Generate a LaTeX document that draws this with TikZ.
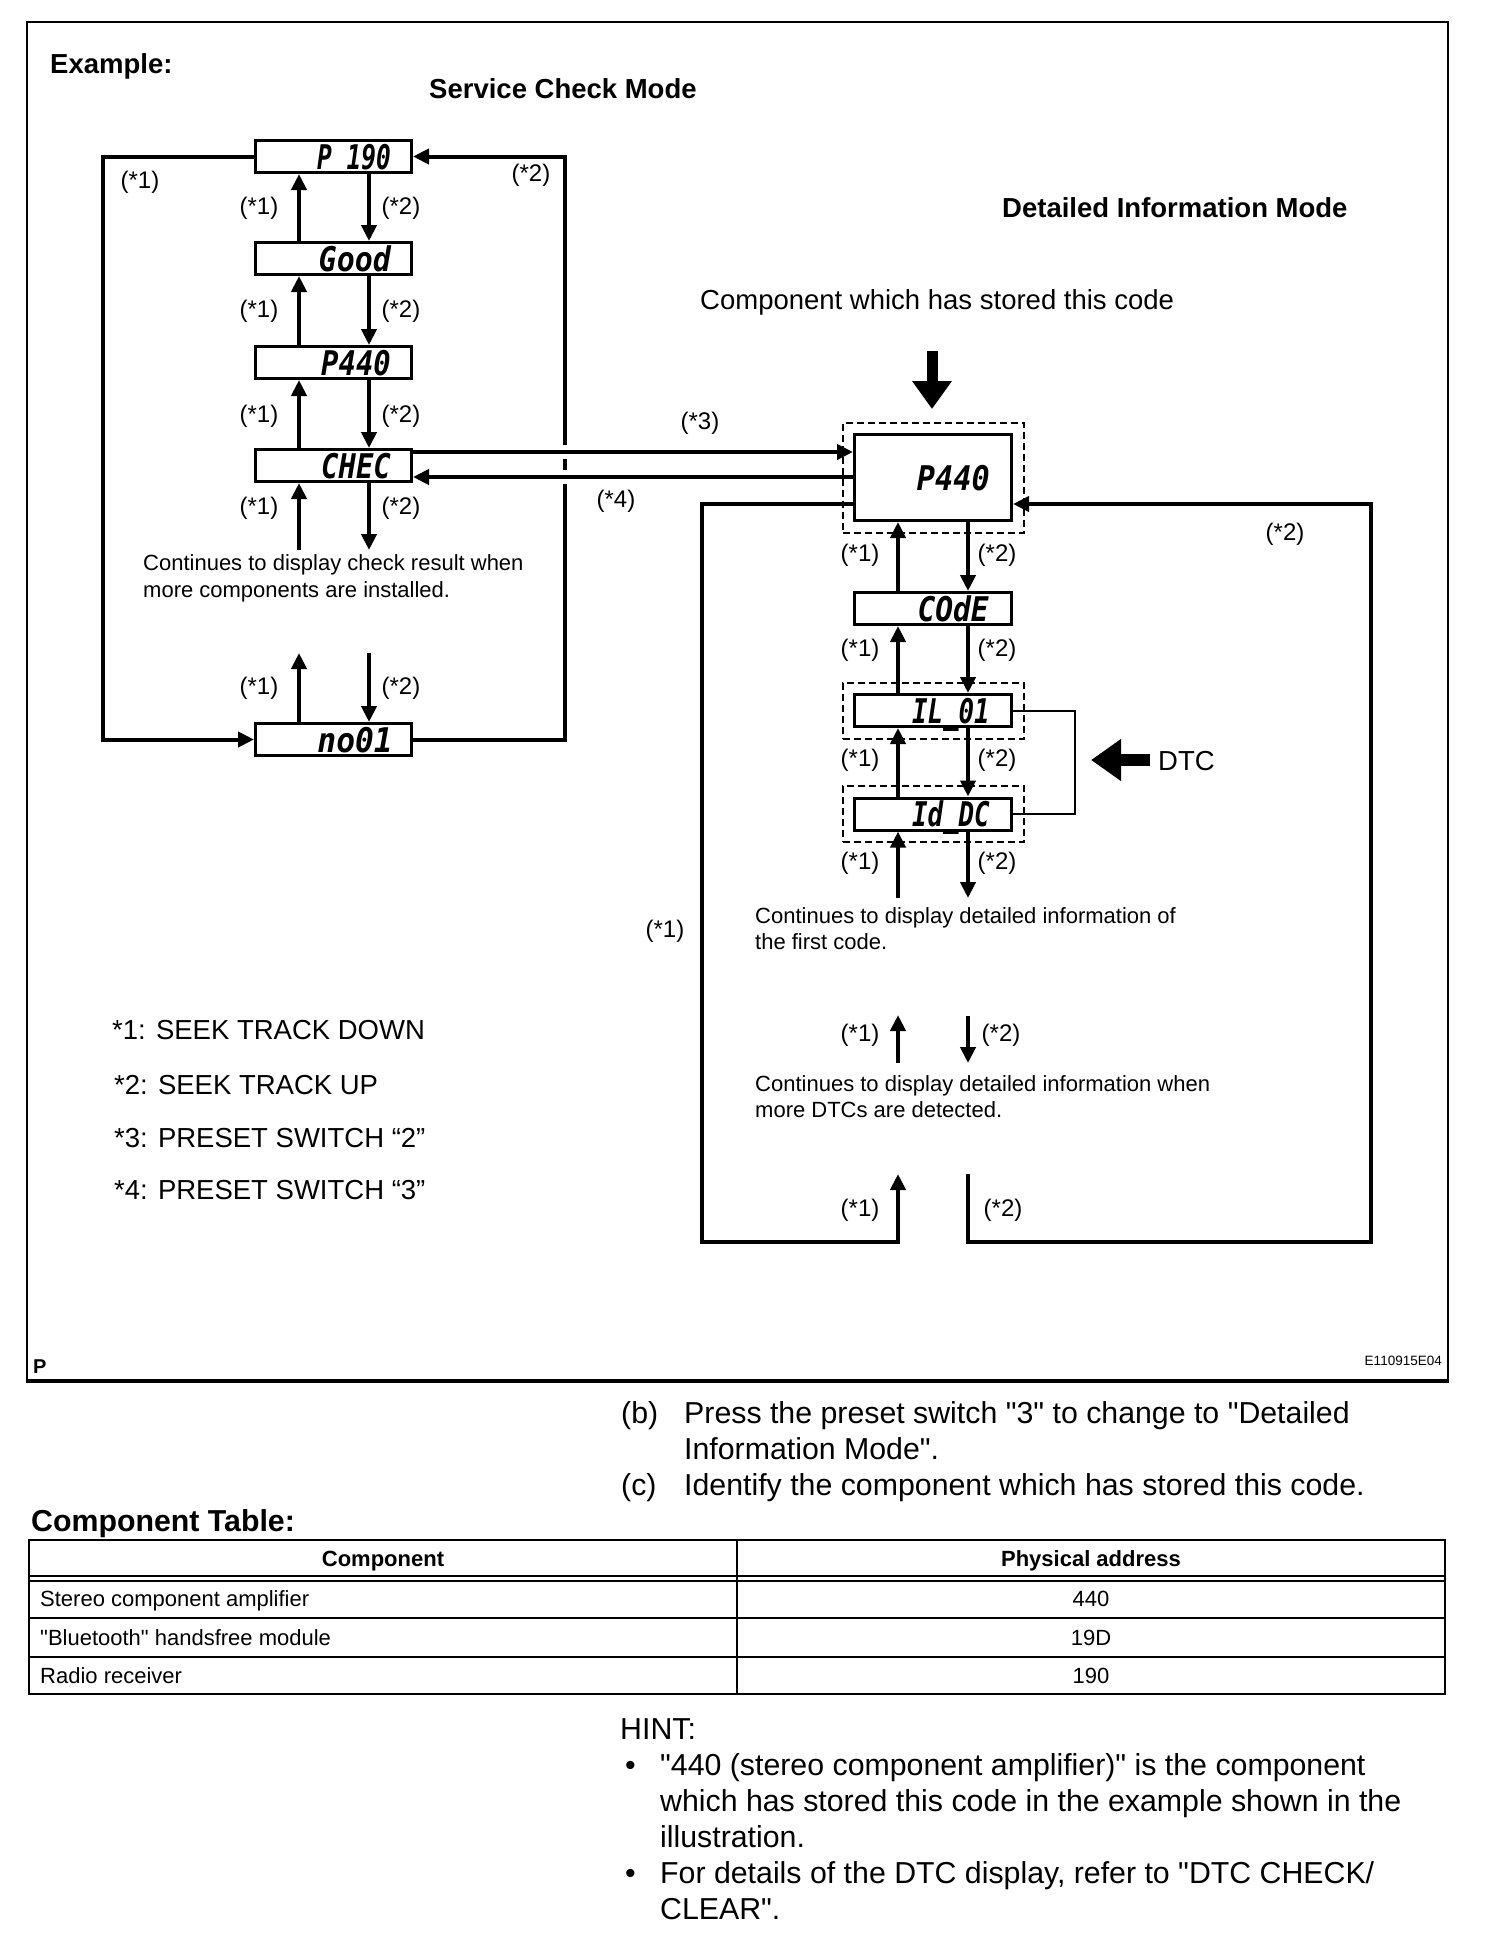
\documentclass[tikz,border=0pt]{standalone}
\usepackage{fontspec}
\setmainfont{Liberation Sans}[Ligatures=TeXOff]
\newfontfamily\segfont{DejaVu Sans Mono}
\usetikzlibrary{arrows.meta,calc}
\newcommand\fsLab{\fontsize{24}{28}\selectfont}
\newcommand\fsSmall{\fontsize{22}{27}\selectfont}
\newcommand\fsBig{\fontsize{27.5}{33}\selectfont}
\newcommand\fsLow{\fontsize{30.3}{36}\selectfont}
\tikzset{
  segbox/.style={draw, line width=3pt, minimum width=156pt, minimum height=32pt, inner sep=0pt},
  rbox/.style={segbox, minimum width=157pt},
  segtxt/.style={inner sep=0pt, anchor=base east, font=\fontsize{34}{34}\selectfont\segfont\bfseries\itshape},
  dbox/.style={draw, line width=1.4pt, dash pattern=on 7pt off 4pt, inner sep=0pt, minimum width=181pt},
  conn/.style={line width=4pt, line join=miter},
  arr/.style={conn, -{Triangle[length=16pt,width=15pt]}},
  lab/.style={font=\fsLab, inner sep=0pt},
  txt/.style={inner sep=0pt, anchor=base west},
  ctxt/.style={inner sep=0pt, anchor=base},
  tline/.style={line width=2pt},
}
\begin{document}
\begin{tikzpicture}[x=1pt,y=-1pt]
\useasboundingbox (0,0) rectangle (1504,1944);
\fill[white] (0,0) rectangle (1504,1944);
% frame
\draw[line width=2pt] (27,22) rectangle (1448,1381);
\draw[line width=3.5pt] (26,1381) -- (1449,1381);

% headings
\node[txt, font=\fsBig\bfseries] (hex) at (50,73) {Example:};
\node[txt, font=\fsBig\bfseries] (hsc) at (429,98) {Service Check Mode};
\node[txt, font=\fsBig\bfseries] (hdi) at (1002,217) {Detailed Information Mode};
\node[txt, font=\fsBig] (hcomp) at (700,309) {Component which has stored this code};

% left boxes
\node[segbox] (p190) at (333.5,156.5) {};
\node[segbox] (good) at (333.5,258.5) {};
\node[segbox] (p440) at (333.5,362.5) {};
\node[segbox] (chec) at (333.5,465.5) {};
\node[segbox] (no01) at (333.5,739.5) {};
\node[segtxt] (p190t) at ($(p190.east)+(-22,12.5)$) {\scalebox{0.72}[1]{P 190}};
\node[segtxt] (goodt) at ($(good.east)+(-22,12.5)$) {\scalebox{0.88}[1]{Good}};
\node[segtxt] (p440t) at ($(p440.east)+(-22,12.5)$) {\scalebox{0.85}[1]{P440}};
\node[segtxt] (chect) at ($(chec.east)+(-22,12.5)$) {\scalebox{0.85}[1]{CHEC}};
\node[segtxt] (no01t) at ($(no01.east)+(-20,12.5)$) {\scalebox{0.92}[1]{no01}};

% right boxes
\node[dbox, minimum height=110pt] (dbig) at (933.5,478) {};
\node[dbox, minimum height=56pt] (dil) at (933.5,711) {};
\node[dbox, minimum height=56pt] (did) at (933.5,814) {};
\node[rbox, minimum height=86pt] (big) at (933,477.5) {};
\node[rbox] (code) at (933,608.5) {};
\node[rbox] (il) at (933,710.5) {};
\node[rbox] (id) at (933,814) {};
\node[segtxt] (bigt) at ($(big.east)+(-23,13)$) {\scalebox{0.89}[1]{P440}};
\node[segtxt] (codet) at ($(code.east)+(-24,12.5)$) {\scalebox{0.87}[1]{COdE}};
\node[segtxt] (ilt) at ($(il.east)+(-23,12.5)$) {\scalebox{0.76}[1]{IL\_01}};
\node[segtxt] (idt) at ($(id.east)+(-23,12.5)$) {\scalebox{0.76}[1]{Id\_DC}};

% left connectors
\coordinate (ux) at (299,0);
\coordinate (dx) at (369,0);
\draw[arr] (good.north -| ux) -- (p190.south -| ux);
\draw[arr] (p190.south -| dx) -- (good.north -| dx);
\draw[arr] (p440.north -| ux) -- (good.south -| ux);
\draw[arr] (good.south -| dx) -- (p440.north -| dx);
\draw[arr] (chec.north -| ux) -- (p440.south -| ux);
\draw[arr] (p440.south -| dx) -- (chec.north -| dx);
\coordinate (ce1) at (299,550);
\coordinate (ce2) at (369,550);
\draw[arr] (ce1) -- (chec.south -| ce1);
\draw[arr] (chec.south -| ce2) -- (ce2);
\coordinate (ne1) at (299,653);
\coordinate (ne2) at (369,653);
\draw[arr] (no01.north -| ne1) -- (ne1);
\draw[arr] (ne2) -- (no01.north -| ne2);
\coordinate (lt) at (103,156.5);
\coordinate (lb) at (103,739.5);
\coordinate (rt) at (565,156.5);
\coordinate (rb) at (565,739.5);
\draw[arr] (p190.west) -- (lt) -- (lb) -- (no01.west);
\draw[arr] (no01.east) -- (rb) -- (rt) -- (p190.east);
\fill[white] (558,445) rectangle (572,459);
\fill[white] (558,470) rectangle (572,484);

% mode change lines
\coordinate (h1) at (0,452);
\coordinate (h2) at (0,477);
\coordinate (h3) at (0,504);
\draw[arr] (chec.east |- h1) -- (big.west |- h1);
\draw[arr] (big.west |- h2) -- (chec.east |- h2);

% right connectors
\coordinate (ru) at (898,0);
\coordinate (rd) at (968,0);
\draw[arr] (code.north -| ru) -- (big.south -| ru);
\draw[arr] (big.south -| rd) -- (code.north -| rd);
\draw[arr] (il.north -| ru) -- (code.south -| ru);
\draw[arr] (code.south -| rd) -- (il.north -| rd);
\draw[arr] (id.north -| ru) -- (il.south -| ru);
\draw[arr] (il.south -| rd) -- (id.north -| rd);
\coordinate (ie1) at (898,898);
\coordinate (ie2) at (968,898);
\draw[arr] (ie1) -- (id.south -| ie1);
\draw[arr] (id.south -| ie2) -- (ie2);
\coordinate (m1a) at (898,1063);
\coordinate (m1b) at (898,1015);
\coordinate (m2a) at (968,1016);
\coordinate (m2b) at (968,1063);
\draw[arr] (m1a) -- (m1b);
\draw[arr] (m2a) -- (m2b);
\coordinate (a1) at (702,504);
\coordinate (a2) at (702,1242);
\coordinate (a3) at (898,1242);
\coordinate (a4) at (898,1174);
\draw[arr] (big.west |- h3) -- (a1) -- (a2) -- (a3) -- (a4);
\coordinate (b1) at (968,1174);
\coordinate (b2) at (968,1242);
\coordinate (b3) at (1371,1242);
\coordinate (b4) at (1371,504);
\draw[arr] (b1) -- (b2) -- (b3) -- (b4) -- (big.east |- h3);

% DTC bracket and arrows
\coordinate (br1) at (1075,710.5);
\coordinate (br2) at (1075,814);
\draw[line width=2pt] (il.east) -- (br1) -- (br2) -- (id.east);
\coordinate (dtcA) at (1150,760);
\coordinate (dtcB) at (1091,760);
\draw[line width=12pt, -{Triangle[length=30pt,width=40pt]}] (dtcA) -- (dtcB);
\node[txt, font=\fsBig] (dtc) at (1158,770) {DTC};
\coordinate (topA) at (932,351);
\coordinate (topB) at (932,409);
\draw[line width=11pt, -{Triangle[length=28pt,width=38pt]}] (topA) -- (topB);

% labels
\node[lab] (l1) at (140,182) {(*1)};
\node[lab] (l2) at (531,175) {(*2)};
\foreach \yy/\nm in {208/a,311/b,416/c,508/d,688/e}{
  \node[lab] (la\nm) at (259,\yy) {(*1)};
  \node[lab] (lb\nm) at (401,\yy) {(*2)};
}
\foreach \yy/\nm in {555/a,650/b,760/c,863/d}{
  \node[lab] (ra\nm) at (860,\yy) {(*1)};
  \node[lab] (rb\nm) at (997,\yy) {(*2)};
}
\node[lab] (l3) at (700,423) {(*3)};
\node[lab] (l4) at (616,501) {(*4)};
\node[lab] (lr2) at (1285,534) {(*2)};
\node[lab] (lr1) at (665,931) {(*1)};
\node[lab] (lm1) at (860,1035) {(*1)};
\node[lab] (lm2) at (1001,1035) {(*2)};
\node[lab] (lbt1) at (860,1210) {(*1)};
\node[lab] (lbt2) at (1003,1210) {(*2)};

% notes
\node[txt, font=\fsSmall] (n1a) at (143,570) {Continues to display check result when};
\node[txt, font=\fsSmall] (n1b) at (143,597) {more components are installed.};
\node[txt, font=\fsSmall] (n2a) at (755,923) {Continues to display detailed information of};
\node[txt, font=\fsSmall] (n2b) at (755,949) {the first code.};
\node[txt, font=\fsSmall] (n3a) at (755,1091) {Continues to display detailed information when};
\node[txt, font=\fsSmall] (n3b) at (755,1117) {more DTCs are detected.};

% legend
\node[txt, font=\fsBig] (k1) at (112,1039) {*1: SEEK TRACK DOWN};
\node[txt, font=\fsBig] (k2) at (114,1094) {*2: SEEK TRACK UP};
\node[txt, font=\fsBig] (k3) at (114,1147) {*3: PRESET SWITCH “2”};
\node[txt, font=\fsBig] (k4) at (114,1199) {*4: PRESET SWITCH “3”};

\node[txt, font=\fontsize{20}{24}\selectfont\bfseries] (pp) at (33,1373) {P};
\node[inner sep=0pt, anchor=base east, font=\fontsize{13.5}{16}\selectfont] (eid) at (1442,1365) {E110915E04};

% lower text
\node[txt, font=\fsLow] (bb) at (621,1423) {(b)};
\node[txt, font=\fsLow] (bt1) at (684,1423) {Press the preset switch "3" to change to "Detailed};
\node[txt, font=\fsLow] (bt2) at (684,1459) {Information Mode".};
\node[txt, font=\fsLow] (cc) at (621,1495) {(c)};
\node[txt, font=\fsLow] (ct) at (684,1495) {Identify the component which has stored this code.};
\node[txt, font=\fsLow\bfseries] (ctab) at (31,1531) {Component Table:};

% table
\draw[tline] (29,1540) rectangle (1445,1694);
\draw[tline] (29,1576) -- (1445,1576);
\draw[tline] (29,1581) -- (1445,1581);
\draw[tline] (29,1618) -- (1445,1618);
\draw[tline] (29,1657) -- (1445,1657);
\draw[tline] (737,1540) -- (737,1694);
\node[ctxt, font=\fsSmall\bfseries] (th1) at (383,1566) {Component};
\node[ctxt, font=\fsSmall\bfseries] (th2) at (1091,1566) {Physical address};
\node[txt, font=\fsSmall] (r1a) at (40,1606) {Stereo component amplifier};
\node[ctxt, font=\fsSmall] (r1b) at (1091,1606) {440};
\node[txt, font=\fsSmall] (r2a) at (40,1645) {"Bluetooth" handsfree module};
\node[ctxt, font=\fsSmall] (r2b) at (1091,1645) {19D};
\node[txt, font=\fsSmall] (r3a) at (40,1683) {Radio receiver};
\node[ctxt, font=\fsSmall] (r3b) at (1091,1683) {190};

% hint
\node[txt, font=\fsLow] (hint) at (620,1739) {HINT:};
\node[txt, font=\fsLow] (bu1) at (625,1775) {•};
\node[txt, font=\fsLow] (h1a) at (660,1775) {"440 (stereo component amplifier)" is the component};
\node[txt, font=\fsLow] (h1b) at (660,1811) {which has stored this code in the example shown in the};
\node[txt, font=\fsLow] (h1c) at (660,1847) {illustration.};
\node[txt, font=\fsLow] (bu2) at (625,1883) {•};
\node[txt, font=\fsLow] (h2a) at (660,1883) {For details of the DTC display, refer to "DTC CHECK/};
\node[txt, font=\fsLow] (h2b) at (660,1919) {CLEAR".};
\end{tikzpicture}
\end{document}
